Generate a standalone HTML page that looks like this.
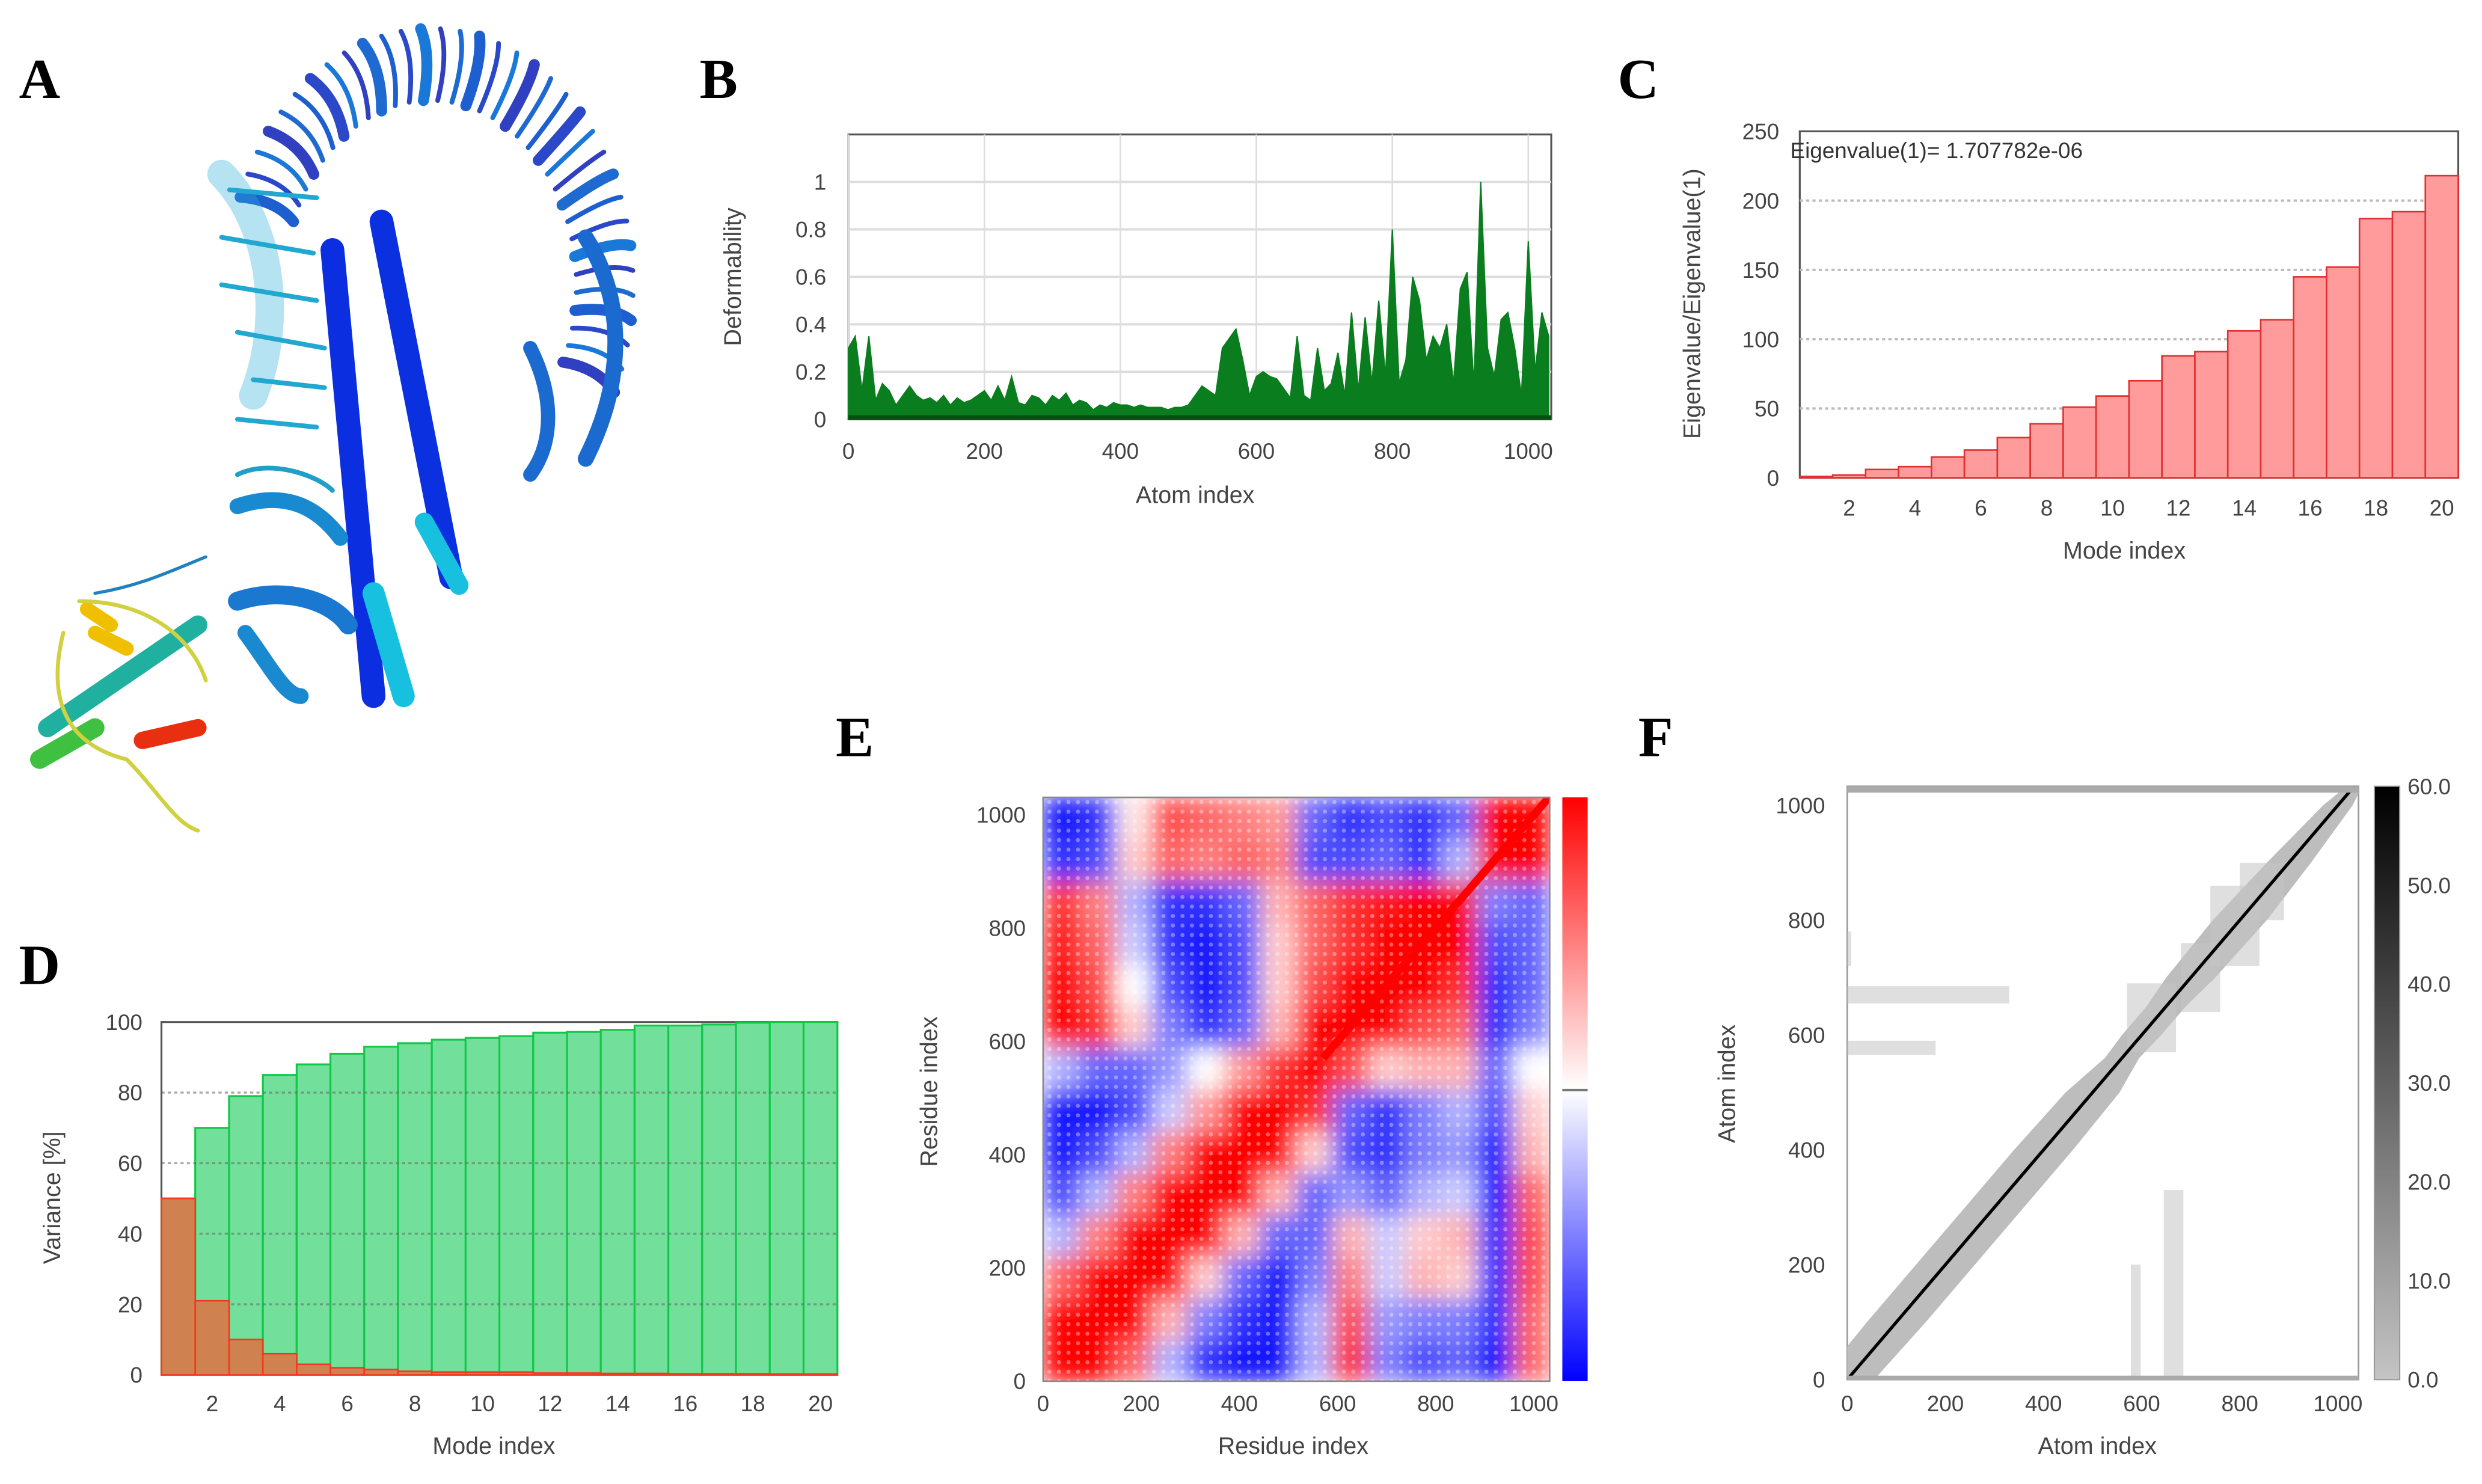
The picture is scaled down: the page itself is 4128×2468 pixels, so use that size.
<!DOCTYPE html>
<html><head><meta charset="utf-8"><title>NMA figure</title>
<style>html,body{margin:0;padding:0;background:#fff}svg{display:block}text{font-family:"Liberation Sans",sans-serif}</style>
</head><body>
<svg id="fig" width="4128" height="2468" viewBox="0 0 1568 938" preserveAspectRatio="none" xmlns="http://www.w3.org/2000/svg">
<defs>
<linearGradient id="gE" x1="0" y1="0" x2="0" y2="1"><stop offset="0" stop-color="#ff0000"/><stop offset="0.5" stop-color="#ffffff"/><stop offset="1" stop-color="#0000ff"/></linearGradient>
<linearGradient id="gF" x1="0" y1="0" x2="0" y2="1"><stop offset="0" stop-color="#000"/><stop offset="1" stop-color="#c4c4c4"/></linearGradient>
<filter id="blurE" x="0" y="0" width="1" height="1"><feGaussianBlur stdDeviation="7" edgeMode="duplicate"/></filter>
<clipPath id="clipE"><rect x="659" y="504" width="320" height="369"/></clipPath>
<clipPath id="clipF"><rect x="1167" y="497" width="323" height="375"/></clipPath>
<pattern id="stripeE" width="6" height="6" patternUnits="userSpaceOnUse"><rect width="6" height="6" fill="none"/><circle cx="3" cy="3" r="1.3" fill="#fff" opacity="0.35"/></pattern>
</defs>

<g font-family="Liberation Serif" font-weight="bold" font-size="36" fill="#000">
<text x="12" y="62" style="font-family:'Liberation Serif',serif">A</text>
<text x="442" y="62" style="font-family:'Liberation Serif',serif">B</text>
<text x="1022" y="62" style="font-family:'Liberation Serif',serif">C</text>
<text x="12" y="622" style="font-family:'Liberation Serif',serif">D</text>
<text x="528" y="478" style="font-family:'Liberation Serif',serif">E</text>
<text x="1035" y="478" style="font-family:'Liberation Serif',serif">F</text>
</g>

<!-- Panel A: protein cartoon -->
<g id="protein" fill="none" stroke-linecap="round">
<g id="ring"></g>
<path d="M140 110 C170 140 180 200 160 250" stroke="#2ab0d8" stroke-width="18" opacity="0.35"/>
<path d="M145 120 L200 125 M140 150 L198 160 M140 180 L200 190 M150 210 L205 220 M160 240 L205 245 M150 265 L200 270" stroke="#20a8d0" stroke-width="3"/>
<path d="M370 150 C395 190 395 240 370 290" stroke="#1a6ad0" stroke-width="10"/>
<path d="M335 220 C350 250 350 280 335 300" stroke="#1a6ad0" stroke-width="9"/>
<path d="M210 158 L236 440" stroke="#0a2ee0" stroke-width="15"/>
<path d="M241 140 L285 365" stroke="#0a30e0" stroke-width="15"/>
<path d="M236 375 L255 440" stroke="#18c0e0" stroke-width="14"/>
<path d="M268 330 L290 370" stroke="#18c0e0" stroke-width="12"/>
<path d="M150 380 C180 370 210 380 220 395" stroke="#1a78d0" stroke-width="12"/>
<path d="M150 320 C180 310 200 320 215 340 M155 400 C170 420 180 440 190 440" stroke="#1a8ad0" stroke-width="10"/>
<path d="M150 300 C170 290 200 300 210 310" stroke="#20a0c8" stroke-width="3"/>
<path d="M130 352 C110 360 90 370 60 375" stroke="#2080c0" stroke-width="2"/>
<path d="M30 460 L125 395" stroke="#20b0a0" stroke-width="12"/>
<path d="M25 480 L60 460" stroke="#40c040" stroke-width="12"/>
<path d="M55 385 L70 395 M60 400 L80 410" stroke="#f0c000" stroke-width="9"/>
<path d="M90 468 L125 460" stroke="#e83010" stroke-width="11"/>
<path d="M40 400 C30 440 40 470 80 480 C100 500 110 520 125 525 M50 380 C90 380 120 400 130 430" stroke="#d0d040" stroke-width="2.5"/>
</g>

<g id="panelB"></g>
<g id="panelC"></g>
<g id="panelD"></g>
<g id="panelE"></g>
<g id="panelF"></g>
</svg>

<script>
const deformValues = [
0.3,0.35,0.12,0.35,0.08,0.15,0.12,0.06,0.1,0.14,
0.1,0.08,0.09,0.07,0.1,0.06,0.09,0.07,0.08,0.1,
0.12,0.08,0.14,0.08,0.18,0.07,0.06,0.1,0.09,0.06,
0.1,0.08,0.11,0.06,0.08,0.07,0.04,0.06,0.05,0.07,
0.06,0.06,0.05,0.06,0.05,0.05,0.05,0.04,0.05,0.05,
0.06,0.1,0.14,0.12,0.1,0.3,0.34,0.38,0.25,0.1,
0.18,0.2,0.18,0.17,0.13,0.09,0.35,0.1,0.08,0.3,
0.12,0.15,0.28,0.1,0.45,0.12,0.43,0.15,0.5,0.18,
0.8,0.15,0.25,0.6,0.5,0.25,0.35,0.3,0.4,0.15,
0.55,0.62,0.14,1.0,0.3,0.18,0.42,0.45,0.3,0.1,
0.75,0.2,0.45,0.35];
const deformStep = 10;
const deformXTicks = [0,200,400,600,800,1000];
const deformYTicks = [0,0.2,0.4,0.6,0.8,1];

const modes = [1,2,3,4,5,6,7,8,9,10,11,12,13,14,15,16,17,18,19,20];
const eigenRatios = [1,2,6,8,15,20,29,39,51,59,70,88,91,106,114,145,152,187,192,218];
const eigenYTicks = [0,50,100,150,200,250];
const modeXTicks = [2,4,6,8,10,12,14,16,18,20];

const cumVariance = [50,70,79,85,88,91,93,94,95,95.5,96,97,97.2,97.8,99,99,99.3,99.8,100,100];
const indVariance = [50,21,10,6,3,2,1.5,1,0.8,0.8,0.8,0.5,0.5,0.4,0.4,0.3,0.3,0.3,0.2,0.2];
const varYTicks = [0,20,40,60,80,100];

const covMatrix = [
[1,1,0.6,-0.3,-0.8,-0.9,-0.9,-0.3,0.8,-0.5,-0.7,-0.6,-0.9,0.6],
[1,1,1,0.3,-0.5,-0.8,-0.9,-0.3,0.7,-0.4,-0.5,-0.5,-0.8,0.6],
[0.6,1,1,1,0.2,-0.6,-0.9,-0.5,0.5,-0.2,0.3,0.2,-0.8,0.7],
[-0.3,0.5,1,1,1,0.3,-0.6,-0.6,0.3,-0.2,0.2,0.3,-0.8,0.7],
[-0.7,-0.3,0.5,1,1,1,0.3,-0.6,-0.4,-0.6,-0.3,-0.2,-0.9,0.6],
[-0.9,-0.7,-0.3,0.5,1,1,1,0.2,-0.7,-0.8,-0.5,-0.4,-0.9,0.3],
[-0.9,-0.9,-0.7,-0.2,0.4,1,1,0.8,-0.6,-0.8,-0.5,-0.3,-0.7,0.2],
[-0.3,-0.6,-0.6,-0.4,0.0,0.4,0.8,1,0.7,0.2,0.3,0.3,-0.6,0.0],
[1,0.8,0.2,-0.5,-0.8,-0.6,0.3,1,1,1,0.7,0.6,-0.8,-0.5],
[1,0.7,0,-0.7,-0.9,-0.7,0.2,0.7,1,1,1,0.8,-0.8,-0.6],
[0.9,0.6,-0.2,-0.8,-0.9,-0.7,0.2,0.6,0.8,1,1,1,-0.7,-0.6],
[0.8,0.5,-0.3,-0.8,-0.8,-0.6,0.3,0.6,0.8,0.9,1,1,-0.5,-0.6],
[-0.8,-0.7,0.2,0.6,0.5,0.6,0.5,-0.7,-0.7,-0.6,-0.8,-0.3,1,1],
[-0.9,-0.8,0.1,0.7,0.6,0.5,0.4,-0.6,-0.8,-0.7,-0.8,-0.6,1,1]];
const residueMax = 1032;
const resTicks = [0,200,400,600,800,1000];

const bandAtoms = [0,100,200,300,400,500,560,600,650,700,800,900,1000,1035];
const bandHalfWidth = [55,60,60,60,60,55,35,40,40,50,55,45,30,15];
const contactClusters = [
[0,330,655,685],[0,180,565,590],[578,598,0,200],[645,685,0,330],
[570,670,570,690],[680,760,640,760],[740,840,720,860],[800,890,800,900],[0,8,720,780]];
const atomMax = 1035;
const enmColorTicks = ["0.0","10.0","20.0","30.0","40.0","50.0","60.0"];

const NS = "http://www.w3.org/2000/svg";
function mk(parent, tag, attrs) {
  const el = document.createElementNS(NS, tag);
  for (const k in attrs) el.setAttribute(k, attrs[k]);
  parent.appendChild(el);
  return el;
}
function lin(d0, d1, r0, r1) { return v => r0 + (v - d0) / (d1 - d0) * (r1 - r0); }
const TICK = "#444";

// protein ring decoration
(function(){
  const g=document.getElementById('ring');
  const cx=272,cy=180,rx=128,ry=162;
  const cols=['#1e5fd0','#2a48c8','#1a78d8','#3040c0','#1e6ad0'];
  for(let k=0;k<34;k++){
    const a=(200+k*5.6)*Math.PI/180;
    const c=Math.cos(a), s=Math.sin(a);
    const p=mk(g,'path',{d:`M${cx+0.72*rx*c} ${cy+0.72*ry*s} Q${cx+0.86*rx*c+6} ${cy+0.86*ry*s-6} ${cx+1.0*rx*c} ${cy+1.0*ry*s}`,stroke:cols[k%5],'stroke-width':k%3===0?7:3});
    
    
  }
})();

// Panel B
(function(){
  const g = document.getElementById('panelB');
  const L=536,R=980,T=85,B=265;
  const x = lin(0,1000,536,965.5), y = lin(0,1,265,115);
  const bg = mk(g,'rect',{x:L,y:T,width:R-L,height:B-T,fill:'#fff',stroke:'#555','stroke-width':1.2});
  
  
  deformYTicks.forEach(v=>{
    const l = mk(g,'line',{x1:L,x2:R,y1:y(v),y2:y(v),stroke:'#ddd','stroke-width':1.5});
    
    
    const t = mk(g,'text',{x:L-14,y:y(v)+5,'text-anchor':'end','font-size':14,fill:TICK});
    t.textContent = v;
    
    
  });
  deformXTicks.forEach(v=>{
    const l = mk(g,'line',{x1:x(v),x2:x(v),y1:T,y2:B,stroke:'#ddd','stroke-width':1});
    
    
    const t = mk(g,'text',{x:x(v),y:290,'text-anchor':'middle','font-size':14,fill:TICK});
    t.textContent = v;
    
    
  });
  let pts = [x(0)+','+y(0)];
  deformValues.forEach((v,i)=>{ pts.push(x(i*deformStep)+','+y(v)); });
  pts.push(x((deformValues.length-1)*deformStep)+','+y(0));
  const a = mk(g,'polygon',{points:pts.join(' '),fill:'#0a7d1e',stroke:'#0a7d1e','stroke-width':0.8});
  
  
  const base = mk(g,'line',{x1:L,x2:R,y1:B-1,y2:B-1,stroke:'#064d12','stroke-width':3});
  
  
  const xl = mk(g,'text',{x:755,y:318,'text-anchor':'middle','font-size':15,fill:TICK});
  xl.textContent='Atom index';
  
  
  const yl = mk(g,'text',{x:0,y:0,'text-anchor':'middle','font-size':15,fill:TICK,transform:'translate(468,175) rotate(-90)'});
  yl.textContent='Deformability';
  
  
})();

// Panel C
(function(){
  const g = document.getElementById('panelC');
  const L=1137,R=1553,T=83,B=302;
  const y = lin(0,250,B,T); const w=(R-L)/modes.length;
  const xb = m => L + (m-1)*w;
  const bg = mk(g,'rect',{x:L,y:T,width:R-L,height:B-T,fill:'#fff',stroke:'#555','stroke-width':1.2});
  
  
  eigenYTicks.forEach(v=>{
    if(v>0&&v<250){const l=mk(g,'line',{x1:L,x2:R,y1:y(v),y2:y(v),stroke:'#bbb','stroke-width':1.5,'stroke-dasharray':'2 2'});
    
    }
    const t=mk(g,'text',{x:1124,y:y(v)+5,'text-anchor':'end','font-size':14,fill:TICK});
    t.textContent=v;
    
    
  });
  modes.forEach((m,i)=>{
    const r=mk(g,'rect',{x:xb(m),y:y(eigenRatios[i]),width:w,height:B-y(eigenRatios[i]),fill:'#ff9b9b',stroke:'#e03030','stroke-width':1});
    
    
  });
  modeXTicks.forEach(m=>{
    const t=mk(g,'text',{x:xb(m)+w/2,y:326,'text-anchor':'middle','font-size':14,fill:TICK});
    t.textContent=m;
    
    
  });
  const an=mk(g,'text',{x:1131,y:100,'font-size':14,fill:'#333'});
  an.textContent='Eigenvalue(1)= 1.707782e-06';
  
  
  const xl=mk(g,'text',{x:1342,y:353,'text-anchor':'middle','font-size':15,fill:TICK});
  xl.textContent='Mode index';
  
  
  const yl=mk(g,'text',{x:0,y:0,'text-anchor':'middle','font-size':15,fill:TICK,transform:'translate(1074,192) rotate(-90)'});
  yl.textContent='Eigenvalue/Eigenvalue(1)';
  
  
})();

// Panel D
(function(){
  const g=document.getElementById('panelD');
  const L=102,R=529,T=646,B=869;
  const y=lin(0,100,B,T); const w=(R-L)/modes.length;
  const xb=m=>L+(m-1)*w;
  const bg=mk(g,'rect',{x:L,y:T,width:R-L,height:B-T,fill:'#fff',stroke:'#555','stroke-width':1.2});
  
  
  modes.forEach((m,i)=>{
    const r=mk(g,'rect',{x:xb(m),y:y(cumVariance[i]),width:w,height:B-y(cumVariance[i]),fill:'#72e09a',stroke:'#10c848','stroke-width':1.2});
    
    
  });
  varYTicks.forEach(v=>{
    if(v>0&&v<100){const l=mk(g,'line',{x1:L,x2:R,y1:y(v),y2:y(v),stroke:'#666','stroke-width':1.3,'stroke-dasharray':'2 2',opacity:0.55});
    
    }
    const t=mk(g,'text',{x:90,y:y(v)+5,'text-anchor':'end','font-size':14,fill:TICK});
    t.textContent=v;
    
    
  });
  modes.forEach((m,i)=>{
    const r=mk(g,'rect',{x:xb(m),y:y(indVariance[i]),width:w,height:B-y(indVariance[i]),fill:'#cf8150',stroke:'#f03a20','stroke-width':1});
    
    
  });
  modeXTicks.forEach(m=>{
    const t=mk(g,'text',{x:xb(m)+w/2,y:892,'text-anchor':'middle','font-size':14,fill:TICK});
    t.textContent=m;
    
    
  });
  const xl=mk(g,'text',{x:312,y:919,'text-anchor':'middle','font-size':15,fill:TICK});
  xl.textContent='Mode index';
  
  
  const yl=mk(g,'text',{x:0,y:0,'text-anchor':'middle','font-size':15,fill:TICK,transform:'translate(38,757) rotate(-90)'});
  yl.textContent='Variance [%]';
  
  
})();

// Panel E
(function(){
  const g=document.getElementById('panelE');
  const L=659,R=979,T=504,B=873;
  const x=lin(0,1000,659,969), y=lin(0,1000,873,515);
  const n=covMatrix.length, bin=residueMax/n;
  const cg=mk(g,'g',{'clip-path':'url(#clipE)'});
  const inner=mk(cg,'g',{filter:'url(#blurE)'});
  covMatrix.forEach((row,ri)=>{
    row.forEach((v,ci)=>{
      const c = v>=0 ? `rgb(255,${Math.round(255*(1-v))},${Math.round(255*(1-v))})` : `rgb(${Math.round(255*(1+v))},${Math.round(255*(1+v))},255)`;
      const x0=x(ci*bin), x1=x((ci+1)*bin), y0=y((ri+1)*bin), y1=y(ri*bin);
      const r=mk(inner,'rect',{x:x0,y:y0,width:x1-x0+0.6,height:y1-y0+0.6,fill:c});
      
      
    });
  });
  const tex=mk(cg,'rect',{x:L,y:T,width:R-L,height:B-T,fill:'url(#stripeE)'});
  
  
  const diag=mk(cg,'line',{x1:x(570),y1:y(570),x2:x(1030),y2:y(1030),stroke:'#f00','stroke-width':5});
  
  
  const fr=mk(g,'rect',{x:L,y:T,width:R-L,height:B-T,fill:'none',stroke:'#888','stroke-width':1});
  
  
  const cb=mk(g,'rect',{x:987,y:T,width:16,height:B-T,fill:'url(#gE)'});
  
  
  const cm=mk(g,'line',{x1:987,x2:1003,y1:689,y2:689,stroke:'#777','stroke-width':1.5});
  
  
  resTicks.forEach(v=>{
    const t=mk(g,'text',{x:x(v),y:892,'text-anchor':'middle','font-size':14,fill:TICK});
    t.textContent=v;
    
    
    const u=mk(g,'text',{x:648,y:y(v)+5,'text-anchor':'end','font-size':14,fill:TICK});
    u.textContent=v;
    
    
  });
  const xl=mk(g,'text',{x:817,y:919,'text-anchor':'middle','font-size':15,fill:TICK});
  xl.textContent='Residue index';
  
  
  const yl=mk(g,'text',{x:0,y:0,'text-anchor':'middle','font-size':15,fill:TICK,transform:'translate(592,690) rotate(-90)'});
  yl.textContent='Residue index';
  
  
})();

// Panel F
(function(){
  const g=document.getElementById('panelF');
  const L=1167,R=1490,T=497,B=872;
  const x=lin(0,1000,1167,1477), y=lin(0,1000,872,509);
  const bg=mk(g,'rect',{x:L,y:T,width:R-L,height:B-T,fill:'#fff',stroke:'#999','stroke-width':1});
  
  
  const cg=mk(g,'g',{'clip-path':'url(#clipF)'});
  let up=[],dn=[];
  bandAtoms.forEach((a,i)=>{
    up.push(x(a-bandHalfWidth[i])+','+y(a));
    dn.unshift(x(a+bandHalfWidth[i])+','+y(a));
  });
  const band=mk(cg,'polygon',{points:up.concat(dn).join(' '),fill:'#bdbdbd'});
  
  
  contactClusters.forEach(c=>{
    const r=mk(cg,'rect',{x:x(c[0]),y:y(c[3]),width:x(c[1])-x(c[0]),height:y(c[2])-y(c[3]),fill:'#c4c4c4',opacity:0.55});
    
    
  });
  const dl=mk(cg,'line',{x1:x(0),y1:y(0),x2:x(atomMax),y2:y(atomMax),stroke:'#000','stroke-width':2});
  
  
  const tb=mk(g,'line',{x1:L,x2:R,y1:T+2,y2:T+2,stroke:'#aaa','stroke-width':4});
  
  
  const bb=mk(g,'line',{x1:L,x2:R,y1:B-1,y2:B-1,stroke:'#aaa','stroke-width':3});
  
  
  resTicks.forEach(v=>{
    const t=mk(g,'text',{x:x(v),y:892,'text-anchor':'middle','font-size':14,fill:TICK});
    t.textContent=v;
    
    
    const u=mk(g,'text',{x:1153,y:y(v)+5,'text-anchor':'end','font-size':14,fill:TICK});
    u.textContent=v;
    
    
  });
  const cb=mk(g,'rect',{x:1500,y:T,width:16,height:B-T,fill:'url(#gF)',stroke:'#999','stroke-width':0.8});
  
  
  enmColorTicks.forEach((s,i)=>{
    const yy=B-i*(B-T)/6;
    const t=mk(g,'text',{x:1521,y:yy+5,'font-size':14,fill:TICK});
    t.textContent=s;
    
    
  });
  const xl=mk(g,'text',{x:1325,y:919,'text-anchor':'middle','font-size':15,fill:TICK});
  xl.textContent='Atom index';
  
  
  const yl=mk(g,'text',{x:0,y:0,'text-anchor':'middle','font-size':15,fill:TICK,transform:'translate(1096,685) rotate(-90)'});
  yl.textContent='Atom index';
  
  
})();
</script>
</body></html>
